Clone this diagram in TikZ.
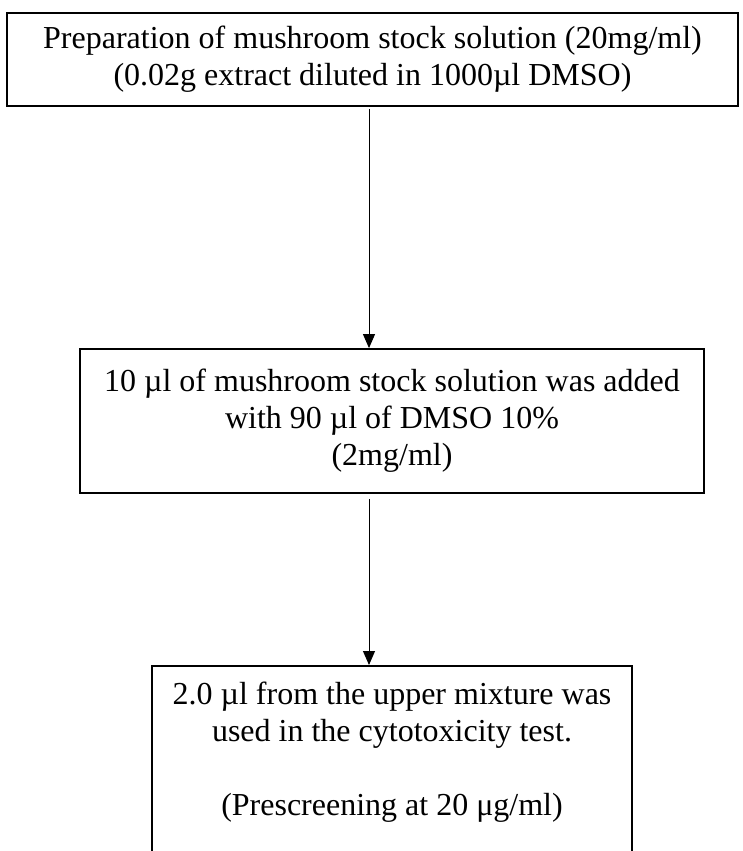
\documentclass[tikz,border=0pt]{standalone}
\usepackage{fontspec}
\setmainfont{Liberation Serif}
\usetikzlibrary{arrows.meta}
\tikzset{%
    stepbox/.style={%
        draw, line width=0.9pt, align=center, inner sep=0pt,
        font=\fontsize{16}{18.5}\selectfont
    },
    flow/.style={%
        -{Triangle[length=7pt, width=6pt]}, line width=0.5pt
    }
}

\begin{document}
\begin{tikzpicture}[x=0.5pt, y=-0.5pt]

    \useasboundingbox (0, 0) rectangle (743, 851);
    \clip (0, 0) rectangle (743, 851);

    % Stock solution
    \node[stepbox, minimum width=365.5pt, minimum height=46.5pt] (stock) at (372.5, 59.5)
        {Preparation of mushroom stock solution (20mg/ml)\\
         (0.02g extract diluted in 1000µl DMSO)};

    % Dilution
    \node[stepbox, minimum width=312pt, minimum height=72pt] (dilution) at (392, 421)
        {10 µl of mushroom stock solution was added\\
         with 90 µl of DMSO 10\%\\
         (2mg/ml)};

    % Test
    \node[stepbox, minimum width=240pt, anchor=north, inner ysep=8pt, text depth=120pt]
        (test) at (392, 665)
        {2.0 µl from the upper mixture was\\
         used in the cytotoxicity test.\\[18.5pt]
         (Prescreening at 20 μg/ml)};

    % Connecting the steps
    \coordinate (axis) at (369, 0);
    \draw[flow, shorten <=1pt] (stock.south -| axis) -- (dilution.north -| axis);
    \draw[flow, shorten <=2.5pt] (dilution.south -| axis) -- (test.north -| axis);

\end{tikzpicture}
\end{document}
